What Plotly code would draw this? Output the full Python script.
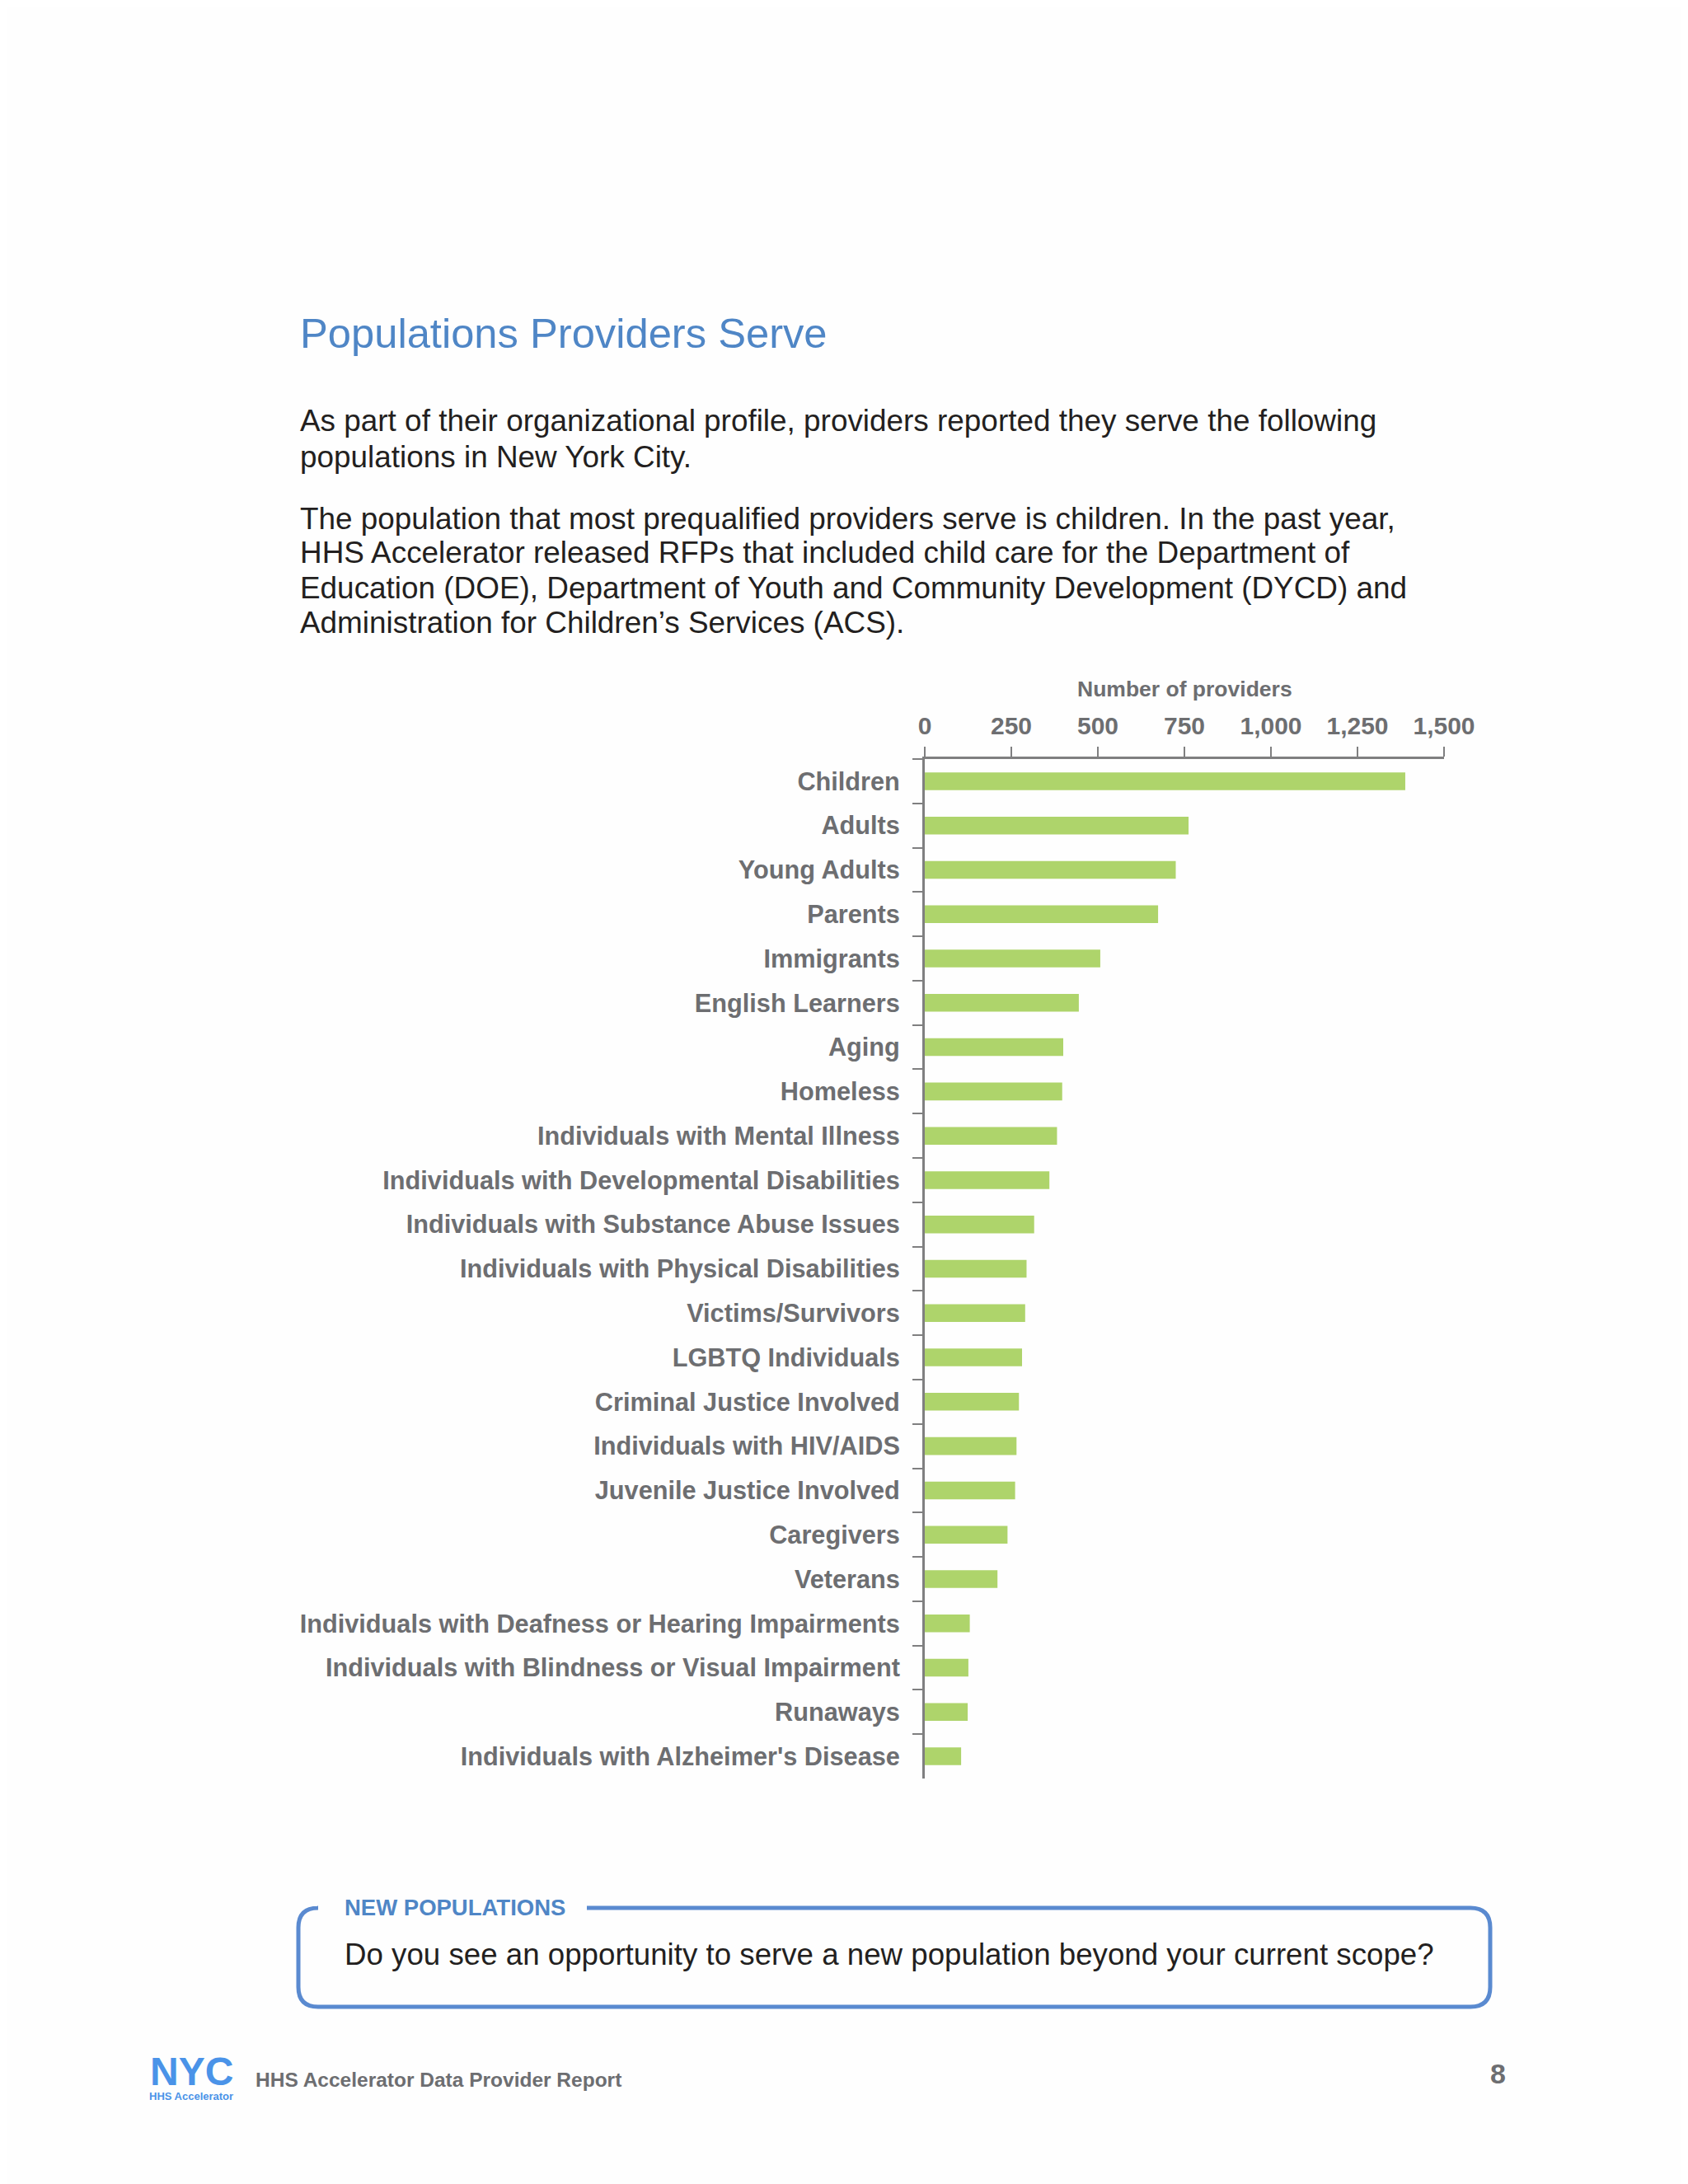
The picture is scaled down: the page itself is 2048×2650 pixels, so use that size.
import plotly.graph_objects as go

# ---------------- data ----------------
categories = [
    "Children", "Adults", "Young Adults", "Parents", "Immigrants",
    "English Learners", "Aging", "Homeless", "Individuals with Mental Illness",
    "Individuals with Developmental Disabilities",
    "Individuals with Substance Abuse Issues",
    "Individuals with Physical Disabilities", "Victims/Survivors",
    "LGBTQ Individuals", "Criminal Justice Involved",
    "Individuals with HIV/AIDS", "Juvenile Justice Involved", "Caregivers",
    "Veterans", "Individuals with Deafness or Hearing Impairments",
    "Individuals with Blindness or Visual Impairment", "Runaways",
    "Individuals with Alzheimer's Disease",
]
providers = [1388, 762, 725, 674, 507, 445, 400, 397, 382, 360, 316, 294,
             290, 281, 272, 265, 261, 239, 210, 130, 126, 124, 105]
x_tickvals = [0, 250, 500, 750, 1000, 1250, 1500]

title_text = "Populations Providers Serve"
para1 = ["As part of their organizational profile, providers reported they serve the following",
         "populations in New York City."]
para2 = ["The population that most prequalified providers serve is children. In the past year,",
         "HHS Accelerator released RFPs that included child care for the Department of",
         "Education (DOE), Department of Youth and Community Development (DYCD) and",
         "Administration for Children\u2019s Services (ACS)."]
axis_title = "Number of providers"
box_label = "NEW POPULATIONS"
box_text = "Do you see an opportunity to serve a new population beyond your current scope?"
footer_text = "HHS Accelerator Data Provider Report"
page_number = "8"

# ---------------- page geometry ----------------
W, H = 2048, 2650
OFF = 8  # default page margin of the html body


def px(x):
    return (x - OFF) / W


def py(y):
    return 1 - (y - OFF) / H


BLUE = "#4F86C6"
GRAY = "#6D6E71"
AXIS_GRAY = "#7F7F80"
BODY = "#231F20"
GREEN = "#AED46B"
SANS = "Liberation Sans, Arial, sans-serif"

fig = go.Figure()
fig.add_trace(go.Bar(
    x=providers, y=categories, orientation="h",
    marker=dict(color=GREEN, line=dict(width=0)),
    width=0.4, hoverinfo="x+y",
))

PLOT_L, PLOT_R, PLOT_T, PLOT_B = 1122, 1752, 921, 2158

fig.update_layout(
    width=W, height=H, autosize=False,
    margin=dict(l=0, r=0, t=0, b=0, pad=0, autoexpand=False),
    paper_bgcolor="#FEFEFE", plot_bgcolor="rgba(0,0,0,0)",
    showlegend=False,
    xaxis=dict(
        domain=[px(PLOT_L), px(PLOT_R)], side="top", range=[0, 1500],
        tickvals=x_tickvals, ticktext=[f"<b>{v:,}</b>" for v in x_tickvals],
        automargin=False,
        ticks="outside", ticklen=12, tickwidth=2, tickcolor=AXIS_GRAY,
        showline=True, linecolor=AXIS_GRAY, linewidth=3,
        showgrid=False, zeroline=False,
        tickfont=dict(family=SANS, size=30, color=GRAY),
        ticklabelstandoff=3,
        fixedrange=True,
    ),
    yaxis=dict(
        domain=[py(PLOT_B), py(PLOT_T)], autorange="reversed",
        type="category", tickson="boundaries", automargin=False,
        ticks="outside", ticklen=12, tickwidth=2, tickcolor=AXIS_GRAY,
        showline=True, linecolor=AXIS_GRAY, linewidth=3,
        showgrid=False, zeroline=False,
        tickfont=dict(family=SANS, size=30.7, color=GRAY, weight="bold"),
        ticklabelstandoff=21,
        fixedrange=True,
    ),
)

ann = []


def note(x, y, text, size, color, bold=False, anchor="left"):
    ann.append(dict(x=px(x), y=py(y), text=f"<b>{text}</b>" if bold else text,
                    showarrow=False,
                    xref="paper", yref="paper", xanchor=anchor, yanchor="middle",
                    font=dict(family=SANS, size=size, color=color)))


note(362, 404, title_text, 50.7, BLUE)
for yy, line in zip([510, 554], para1):
    note(362, yy, line, 36.9, BODY)
for yy, line in zip([629, 671, 713, 755], para2):
    note(362, yy, line, 36.9, BODY)
note(1437, 836, axis_title, 26.5, GRAY, bold=True, anchor="center")

# callout box
BX0, BX1, BY0, BY1, R = 362, 1808, 2315, 2435, 24
GAP0, GAP1 = 385, 712


def P(x, y):
    return f"{px(x):.6f},{py(y):.6f}"


path = (f"M {P(GAP1, BY0)} L {P(BX1 - R, BY0)} Q {P(BX1, BY0)} {P(BX1, BY0 + R)} "
        f"L {P(BX1, BY1 - R)} Q {P(BX1, BY1)} {P(BX1 - R, BY1)} "
        f"L {P(BX0 + R, BY1)} Q {P(BX0, BY1)} {P(BX0, BY1 - R)} "
        f"L {P(BX0, BY0 + R)} Q {P(BX0, BY0)} {P(BX0 + R, BY0)} L {P(GAP0, BY0)}")
fig.add_shape(type="path", path=path, xref="paper", yref="paper",
              line=dict(color="#5A8AD0", width=5))
note(416, 2314, box_label, 27.5, BLUE, bold=True)
note(416, 2371, box_text, 36.7, BODY)

# footer
note(232, 2513, "NYC", 48, "#4A93E8", bold=True, anchor="center")
note(232, 2543, "HHS Accelerator", 13, "#4A93E8", bold=True, anchor="center")
note(308, 2523, footer_text, 24.5, GRAY, bold=True)
note(1817, 2516, page_number, 34, GRAY, bold=True, anchor="center")

fig.update_layout(annotations=ann)
fig.write_html("out.html")
